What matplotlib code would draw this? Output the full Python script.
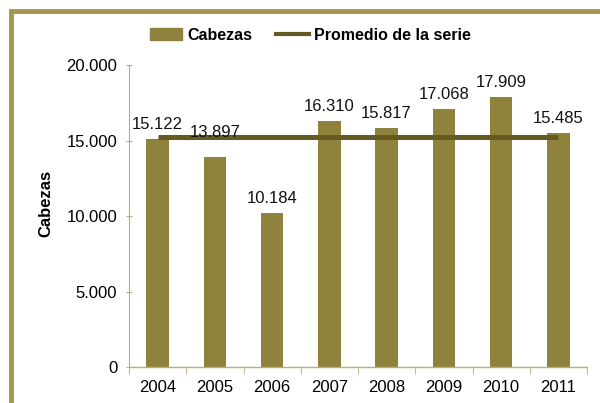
import matplotlib
matplotlib.use("Agg")
import matplotlib.pyplot as plt
from matplotlib.patches import Rectangle
from matplotlib.lines import Line2D
import numpy as np

plt.rcParams['font.family'] = ['Liberation Sans', 'DejaVu Sans']

years = ['2004', '2005', '2006', '2007', '2008', '2009', '2010', '2011']
cabezas = [15122, 13897, 10184, 16310, 15817, 17068, 17909, 15485]
labels = ['15.122', '13.897', '10.184', '16.310', '15.817', '17.068', '17.909', '15.485']
yticks = [0, 5000, 10000, 15000, 20000]
ytick_labels = ['0', '5.000', '10.000', '15.000', '20.000']
promedio = [sum(cabezas) / len(cabezas)] * len(cabezas)
label_extra = [0, 7, 0, 0, 0, 0, 0, 0]

bar_color = '#8E823D'
line_color = '#655A22'
axis_color = '#B8AE78'
frame_color = '#A3954F'

fig = plt.figure(figsize=(6.0, 4.03), dpi=100)
ax = fig.add_axes([129/600, 1 - 367/403, (587 - 129)/600, (367 - 65)/403])

x = np.arange(len(years))
ax.bar(x, cabezas, width=0.39, color=bar_color, zorder=2)
ax.plot(x, promedio, color=line_color, lw=3.6, zorder=3, solid_capstyle='butt')

for xi, v, lab, ex in zip(x, cabezas, labels, label_extra):
    ax.annotate(lab, (xi, v), xytext=(0, 5 + ex), textcoords='offset points',
                ha='center', va='bottom', fontsize=12, color='#111111', zorder=4)

ax.set_xlim(-0.5, len(years) - 0.5)
ax.set_ylim(0, 20000)
ax.set_yticks(yticks)
ax.set_yticklabels(ytick_labels, fontsize=12)
ax.set_xticks(x)
ax.set_xticklabels(years, fontsize=12)
ax.set_xticks(np.arange(-0.5, len(years)), minor=True)
ax.tick_params(axis='x', which='major', length=0, pad=9)
ax.tick_params(axis='x', which='minor', length=5, color=axis_color, direction='out')
ax.tick_params(axis='y', length=5, color=axis_color, direction='inout', pad=6)

for s in ['top', 'right']:
    ax.spines[s].set_visible(False)
ax.spines['left'].set_color(axis_color)
ax.spines['bottom'].set_color(axis_color)
ax.spines['left'].set_linewidth(0.8)
ax.spines['bottom'].set_linewidth(1.0)

ax.set_ylabel('Cabezas', fontsize=12, fontweight='bold')
ax.yaxis.set_label_coords(-0.166, 0.54)

handles = [Rectangle((0, 0), 1, 1, color=bar_color),
           Line2D([0], [0], color=line_color, lw=3)]
fig.legend(handles, ['Cabezas', 'Promedio de la serie'], loc='center',
           bbox_to_anchor=(310/600, 1 - 35/403), ncol=2, frameon=False,
           prop={'weight': 'bold', 'size': 11.5}, handlelength=2.05,
           handletextpad=0.3, columnspacing=1.5)

frame = Rectangle((10.5/600, -0.1), 1.2, 1 - 11/403 + 0.1, transform=fig.transFigure,
                  fill=False, edgecolor=frame_color, lw=3.5, clip_on=False)
fig.patches.append(frame)

fig.savefig('out.png', dpi=100)
